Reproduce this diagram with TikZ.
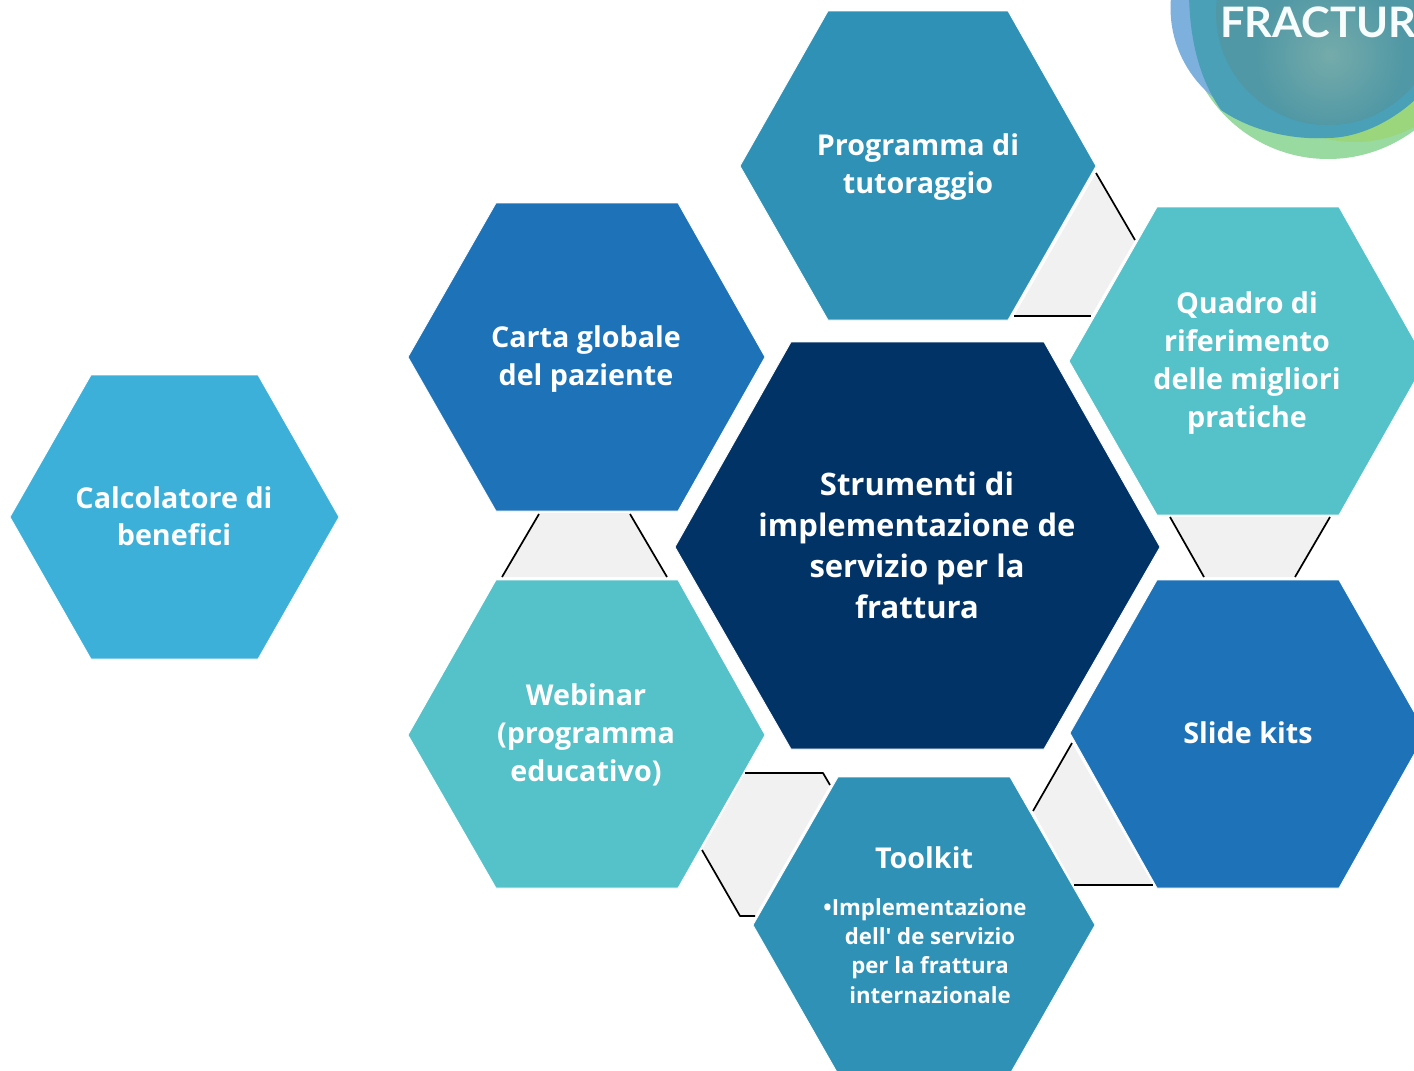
\documentclass[tikz,border=0pt]{standalone}
\usepackage{fontspec}
\setmainfont{Open Sans}
\newfontfamily\plainfont{Open Sans}
\newfontfamily\logofont{Lato}
\definecolor{cNavy}{HTML}{023366}
\definecolor{cBlue}{HTML}{1D72B8}
\definecolor{cSteel}{HTML}{2E91B5}
\definecolor{cTeal}{HTML}{55C1C9}
\definecolor{cSky}{HTML}{3DB0D9}
\definecolor{cGap}{HTML}{F1F1F1}
\definecolor{logoGreen}{HTML}{98DAA0}
\definecolor{logoLime}{HTML}{9BD67C}
\definecolor{logoBlue}{HTML}{7DB0DC}
\definecolor{logoRing}{HTML}{4AA0B6}
\definecolor{logoCore}{HTML}{5098A5}
\definecolor{logoGlow}{HTML}{75ABAA}
\tikzset{
  hexfill/.style={draw=white,line width=0.8pt,line join=miter},
  gapfill/.style={fill=cGap,draw=none},
  edgeline/.style={draw=black,line width=1.7pt,line join=round},
  lbl/.style={text=white,font=\bfseries\fontsize{28.7}{38}\selectfont,align=center,inner sep=0pt},
  lblbig/.style={text=white,font=\bfseries\fontsize{31}{41}\selectfont,align=center,inner sep=0pt},
  lblsmall/.style={text=white,font=\bfseries\fontsize{22.2}{29.2}\selectfont,align=center,inner sep=0pt},
}
% name, left x, inner left x, inner right x, right x, top y, mid y, bottom y, colour
\newcommand{\hexa}[9]{%
  \fill[#9,hexfill] (#2,#7) -- (#3,#6) -- (#4,#6) -- (#5,#7) -- (#4,#8) -- (#3,#8) -- cycle;
  \coordinate (#1) at (#2,#7);}
\begin{document}
\begin{tikzpicture}[x=1pt,y=-1pt]
\useasboundingbox (0,0) rectangle (1414,1071);
\fill[white] (0,0) rectangle (1414,1071);
% logo
\begin{scope}
  \clip (0,0) rectangle (1414,1071);
  \fill[logoGreen] (1328,15) circle[radius=144];
  \begin{scope}
    \clip (1328,15) circle[radius=144];
    \fill[logoLime] (1355,20) circle[radius=122];
  \end{scope}
  \fill[logoBlue] (1285,8) circle[radius=114.5];
  \fill[logoRing] (1189,-10) .. controls (1189,40) and (1200,80) .. (1221,110)
     .. controls (1250,130) and (1290,140) .. (1327,138)
     .. controls (1360,138) and (1395,120) .. (1420,95) -- (1420,-10) -- cycle;
  \begin{scope}
    \clip (1328,13) circle[radius=112];
    \fill[logoCore] (1328,13) circle[radius=112];
    \shade[inner color=logoGlow,outer color=logoCore] (1330,55) circle[radius=75];
  \end{scope}
  \node[anchor=base west,inner sep=0pt,text=white!95!cTeal,font=\logofont\bfseries\fontsize{42}{42}\selectfont] (logotext) at (1220,37) {\scalebox{1.03}[1]{FRACTUR}};
\end{scope}
% gaps
\fill[gapfill] (1096,173) -- (1135,240) -- (1091,316) -- (1014,316) -- cycle;
\fill[gapfill] (539,513) -- (630,513) -- (667,577) -- (502,577) -- cycle;
\fill[gapfill] (1170,517) -- (1330,517) -- (1295,577) -- (1204,577) -- cycle;
\fill[gapfill] (745,773) -- (823,773) -- (830,785) -- (755,916) -- (740,916) -- (702,850) -- cycle;
\fill[gapfill] (1072,743) -- (1033,811) -- (1074,885) -- (1153,885) -- cycle;
% black edges
\draw[edgeline] (1096,173) -- (1135,240);
\draw[edgeline] (1014,316) -- (1091,316);
\draw[edgeline] (539,514) -- (502,577);
\draw[edgeline] (630,514) -- (667,577);
\draw[edgeline] (1170,517) -- (1204,577);
\draw[edgeline] (1330,517) -- (1295,577);
\draw[edgeline] (745,773) -- (823,773) -- (830,785);
\draw[edgeline] (702,850) -- (740,916) -- (755,916);
\draw[edgeline] (1072,743) -- (1033,811);
\draw[edgeline] (1074,885) -- (1153,885);
% hexagons
\hexa{hCenter}{675}{791}{1044}{1160}{342}{547}{749}{cNavy}
\hexa{hProg}{740}{828}{1008}{1096}{11}{166}{320}{cSteel}
\hexa{hCarta}{408}{496}{678}{765}{203}{357}{511}{cBlue}
\hexa{hCalc}{10}{91}{258}{339}{375}{517}{659}{cSky}
\hexa{hWeb}{408}{496}{678}{765}{580}{735}{888}{cTeal}
\hexa{hQuadro}{1069}{1157}{1339}{1426}{207}{361}{515}{cTeal}
\hexa{hSlide}{1070}{1157}{1339}{1426}{580}{733}{888}{cBlue}
\hexa{hTool}{753}{838}{1010}{1095}{777}{925}{1074}{cSteel}
% labels
\node[lblbig] (tCenter) at (917,545) {Strumenti di\\implementazione de\\servizio per la\\frattura};
\node[lbl] (tProg) at (918,167.5) {Programma di\\tutoraggio};
\node[lbl] (tCarta) at (586,359) {Carta globale\\del paziente};
\node[lbl,font=\bfseries\fontsize{28.7}{36.5}\selectfont] (tCalc) at (174,516) {Calcolatore di\\benefici};
\node[lbl] (tWeb) at (586,735) {Webinar\\(programma\\educativo)};
\node[lbl] (tQuadro) at (1247,363.5) {Quadro di\\riferimento\\delle migliori\\pratiche};
\node[lbl] (tSlide) at (1248,733) {Slide kits};
\node[lbl] (tTool) at (924,858) {Toolkit};
\node[lblsmall] (tToolSub) at (925,951) {\textbullet Implementazione\\\hspace*{10pt}dell{\plainfont\bfseries '} de servizio\\\hspace*{10pt}per la frattura\\\hspace*{10pt}internazionale};
\end{tikzpicture}
\end{document}
